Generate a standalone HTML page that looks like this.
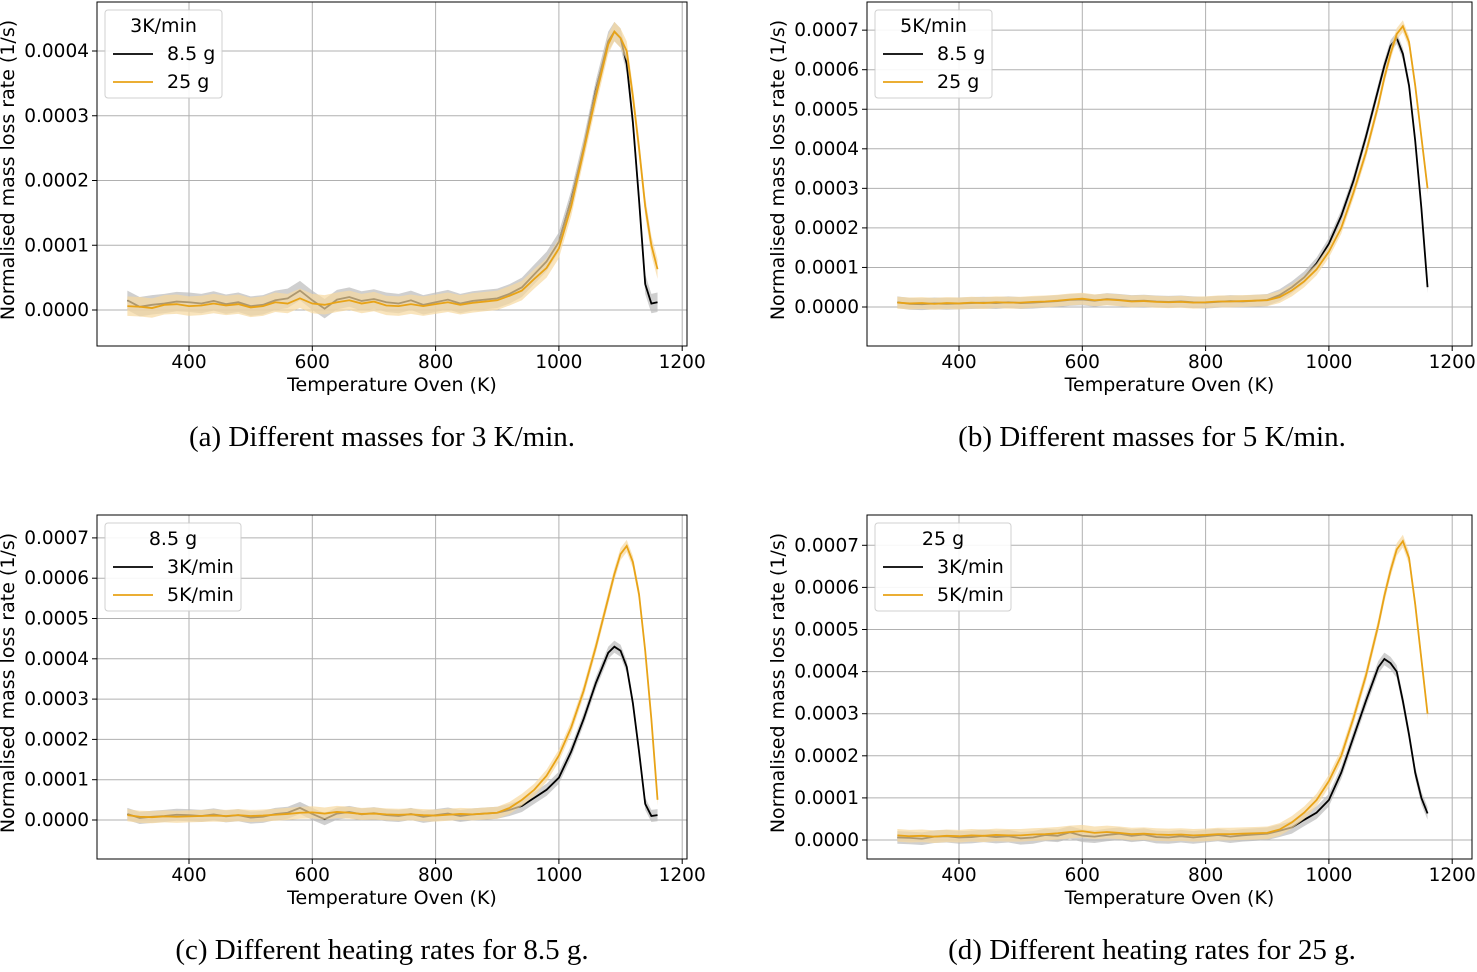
<!DOCTYPE html>
<html><head><meta charset="utf-8"><style>
body{margin:0;background:#fff;width:1477px;height:967px;overflow:hidden}
svg text{font-family:"DejaVu Sans","Liberation Sans",sans-serif}
.cap{font-family:"Liberation Serif",serif;font-size:29px}
</style></head><body>
<svg id="fig" width="1477" height="967">
<text class="cap" x="382" y="446" text-anchor="middle">(a) Different masses for 3 K/min.</text>
<text class="cap" x="1152" y="446" text-anchor="middle">(b) Different masses for 5 K/min.</text>
<text class="cap" x="382" y="959" text-anchor="middle">(c) Different heating rates for 8.5 g.</text>
<text class="cap" x="1152" y="959" text-anchor="middle">(d) Different heating rates for 25 g.</text>
</svg>
<script>
const temps=[300,320,340,360,380,400,420,440,460,480,500,520,540,560,580,600,620,640,660,680,700,720,740,760,780,800,820,840,860,880,900,920,940,960,980,1000,1020,1040,1060,1080,1090,1100,1110,1120,1130,1140,1150,1160];
const k3m85=[1.5,0.5,0.8,1.0,1.3,1.2,1.0,1.4,0.9,1.2,0.6,0.8,1.5,1.8,3.0,1.5,0.2,1.6,2.0,1.4,1.7,1.2,1.0,1.5,0.8,1.2,1.6,1.0,1.4,1.6,1.8,2.5,3.5,5.5,7.5,10.5,17,25,34,41.5,43,42,38,29,17,4,1,1.2];
const k3m25=[0.6,0.5,0.3,0.8,0.9,0.6,0.7,1.0,0.7,0.9,0.4,0.6,1.2,1.0,1.8,1.0,0.8,1.2,1.5,1.0,1.3,0.7,0.6,0.9,0.6,0.9,1.2,0.8,1.1,1.3,1.5,2.2,3.0,4.8,6.5,9.5,16,24.5,33,41,43,42,40,33,25,16,10,6.3];
const k5m85=[1.2,0.8,0.7,0.9,0.8,0.9,1.0,1.1,1.0,1.2,1.0,1.1,1.3,1.5,1.8,1.9,1.6,2.0,1.8,1.5,1.6,1.4,1.3,1.4,1.2,1.1,1.3,1.5,1.4,1.6,1.8,3.0,5.0,7.5,11,16,23,32,43,55,61,66,68,64,56,42,25,5];
const k5m25=[1.1,0.9,1.0,0.8,1.0,0.9,1.1,1.0,1.2,1.1,1.1,1.3,1.4,1.6,1.9,2.1,1.7,1.9,1.7,1.4,1.5,1.3,1.2,1.3,1.1,1.2,1.4,1.4,1.5,1.6,1.7,2.5,4.2,6.5,9.5,14,20,29,39,51,58,64,69,71,67,56,43,30];
const yTicksA=["0.0000","0.0001","0.0002","0.0003","0.0004"];
const yTicks7=["0.0000","0.0001","0.0002","0.0003","0.0004","0.0005","0.0006","0.0007"];
const xTicks=[400,600,800,1000,1200];
const panels=[
 {id:'a',rx0:97,rx1:687,ry0:2,ry1:346,xa:189,yz:310,ys:64.75,yt:yTicksA,leg:{x:105,y:10,w:117,t:"3K/min",l:["8.5 g","25 g"]},s:[[k3m85,'#000','#bbb'],[k3m25,'#e8a317','#f6d9a0']]},
 {id:'b',rx0:867,rx1:1472,ry0:2,ry1:346,xa:959,yz:307,ys:39.55,yt:yTicks7,leg:{x:875,y:10,w:117,t:"5K/min",l:["8.5 g","25 g"]},s:[[k5m85,'#000','#bbb'],[k5m25,'#e8a317','#f6d9a0']]},
 {id:'c',rx0:97,rx1:687,ry0:515,ry1:859,xa:189,yz:820,ys:40.3,yt:yTicks7,leg:{x:105,y:523,w:136,t:"8.5 g",l:["3K/min","5K/min"]},s:[[k3m85,'#000','#bbb'],[k5m85,'#e8a317','#f6d9a0']]},
 {id:'d',rx0:867,rx1:1472,ry0:515,ry1:859,xa:959,yz:840,ys:42.1,yt:yTicks7,leg:{x:875,y:523,w:136,t:"25 g",l:["3K/min","5K/min"]},s:[[k3m25,'#000','#bbb'],[k5m25,'#e8a317','#f6d9a0']]}
];
const NS='http://www.w3.org/2000/svg',fig=document.getElementById('fig');
function mk(tag,at,par,txt){const e=document.createElementNS(NS,tag);for(const k in at)e.setAttribute(k,at[k]);if(txt!=null)e.textContent=txt;(par||fig).appendChild(e);return e;}
panels.forEach(p=>{
 const g=mk('g',{});
 
 
 const X=t=>p.xa+(t-400)*123.3/200, Y=v=>p.yz-v*p.ys/10;
 xTicks.forEach(t=>{mk('line',{x1:X(t),x2:X(t),y1:p.ry0,y2:p.ry1,stroke:'#b0b0b0','stroke-width':1},g);
  mk('line',{x1:X(t),x2:X(t),y1:p.ry1,y2:p.ry1+5,stroke:'#000'},g);
  const tl=mk('text',{x:X(t),y:p.ry1+22,'font-size':18.5,'text-anchor':'middle'},g,t);
  
  });
 p.yt.forEach((s,i)=>{const y=Y(i*10);mk('line',{x1:p.rx0,x2:p.rx1,y1:y,y2:y,stroke:'#b0b0b0'},g);
  mk('line',{x1:p.rx0-5,x2:p.rx0,y1:y,y2:y,stroke:'#000'},g);
  const tl=mk('text',{x:p.rx0-8,y:y+6,'font-size':18.5,'text-anchor':'end'},g,s);
  
  });
 p.s.forEach(([d,c,b])=>{
  let up=temps.map((t,i)=>X(t)+','+Y(d[i]+1.5)),dn=temps.map((t,i)=>X(t)+','+Y(Math.max(d[i]-1.5,-2))).reverse();
  const band=mk('polygon',{points:up.concat(dn).join(' '),fill:b,opacity:0.7},g);
  
  
  const l=mk('polyline',{points:temps.map((t,i)=>X(t)+','+Y(d[i])).join(' '),fill:'none',stroke:c,'stroke-width':1.8},g);
  
  
 });
 mk('rect',{x:p.rx0,y:p.ry0,width:p.rx1-p.rx0,height:p.ry1-p.ry0,fill:'none',stroke:'#000','stroke-width':1},g);
 const xl=mk('text',{x:(p.rx0+p.rx1)/2,y:p.ry1+45,'font-size':19,'text-anchor':'middle'},g,'Temperature Oven (K)');
 
 
 const yx=p.rx0-83,yy=(p.ry0+p.ry1)/2-4;
 const yl=mk('text',{x:yx,y:yy,'font-size':19,'text-anchor':'middle',transform:`rotate(-90 ${yx} ${yy})`},g,'Normalised mass loss rate (1/s)');
 
 
 const L=p.leg,lg=mk('g',{},g);
 
 
 mk('rect',{x:L.x,y:L.y,width:L.w,height:88,fill:'#fff',stroke:'#ccc',rx:3,opacity:0.9},lg);
 mk('text',{x:L.x+L.w/2,y:L.y+22,'font-size':19,'text-anchor':'middle'},lg,L.t);
 L.l.forEach((s,i)=>{const y=L.y+44+i*28;mk('line',{x1:L.x+8,x2:L.x+48,y1:y,y2:y,stroke:p.s[i][1],'stroke-width':1.8},lg);
  const e=mk('text',{x:L.x+62,y:y+6,'font-size':19},lg,s);
  
  });
});
</script>
</body></html>
